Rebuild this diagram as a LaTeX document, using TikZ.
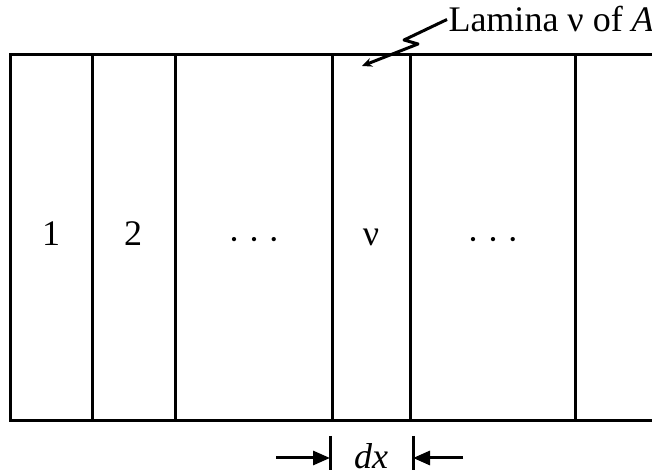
\documentclass[tikz,border=0pt]{standalone}
\usepackage{fontspec}
\setmainfont{Liberation Serif}
\usetikzlibrary{arrows.meta}
\newcommand{\lamdots}{·\hspace{0.22em}·\hspace{0.22em}·}
\begin{document}
\begin{tikzpicture}[x=0.5pt, y=-0.5pt, line width=1.5pt, >={Triangle[length=8.5pt, width=7pt]},
    every node/.style={font=\fontsize{18}{22}\selectfont, inner sep=0pt},
    lbl/.style={anchor=base}]
    \useasboundingbox (0,0) rectangle (652,474);
    \def\ytop{55}
    \def\ybot{421}
    \draw (652,\ytop) -- (10,\ytop) -- (10,\ybot) -- (652,\ybot);
    \foreach \x in {92, 175, 332, 410, 575}
      \draw (\x,\ytop) -- (\x,\ybot);
    \node[lbl] (one) at (51,246) {1};
    \node[lbl] (two) at (133,246) {2};
    \node[lbl] (dotsa) at (254,252) {\lamdots};
    \node[lbl] (nu) at (371,246) {ν};
    \node[lbl] (dotsb) at (493,252) {\lamdots};
    \node[anchor=base west] (lam) at (447,32) {Lamina ν of \textit{A}};
    \draw[-{Stealth[length=5pt, width=4.5pt]}, line join=round]
      (lam.west) -- (404,40) -- (418,44) -- (362,66);
    % width of the lamina
    \coordinate (tl) at (330,458);
    \coordinate (tr) at (413,458);
    \draw (330,436) -- (330,470);
    \draw (413,436) -- (413,470);
    \draw[->] (276,458) -- (tl);
    \draw[->] (463,458) -- (tr);
    \node (dx) at (371,456) {\textit{dx}};
  \end{tikzpicture}
\end{document}
